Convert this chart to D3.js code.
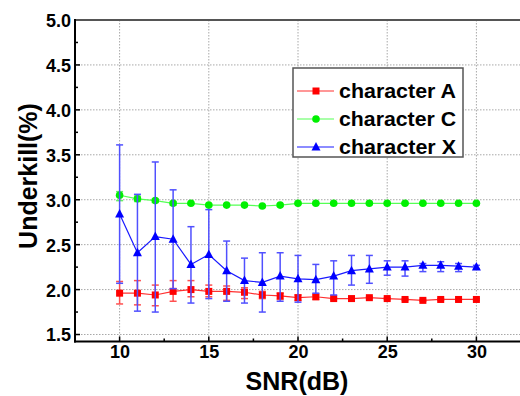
<!DOCTYPE html>
<html>
<head>
<meta charset="utf-8">
<script src="https://cdn.jsdelivr.net/npm/d3@7"></script>
<style>
  body { margin: 0; background: #fff; }
  svg { display: block; font-family: "Liberation Sans", Arial, sans-serif; font-weight: bold; }
</style>
</head>
<body>
<svg id="chart" width="520" height="396"></svg>
<script>
// SNR values on the x axis
const snr = [10, 11, 12, 13, 14, 15, 16, 17, 18, 19, 20, 21, 22, 23, 24, 25, 26, 27, 28, 29, 30];

// character A (red squares)
const charA = [1.96, 1.96, 1.94, 1.98, 2.00, 1.98, 1.98, 1.97, 1.94, 1.93, 1.91, 1.92, 1.90, 1.90, 1.91, 1.90, 1.89, 1.88, 1.89, 1.89, 1.89];
const charALow = [1.84, 1.83, 1.82, 1.87, 1.92, 1.92, 1.88, 1.90, 1.90, 1.89, 1.88, 1.89, 1.89, 1.89, 1.90, 1.89, 1.88, 1.87, 1.88, 1.88, 1.88];
const charAHigh = [2.09, 2.10, 2.05, 2.10, 2.10, 2.05, 2.04, 2.02, 1.98, 1.96, 1.94, 1.94, 1.91, 1.91, 1.92, 1.91, 1.90, 1.89, 1.90, 1.90, 1.90];

// character C (green circles)
const charC = [3.05, 3.01, 2.99, 2.96, 2.96, 2.94, 2.94, 2.94, 2.93, 2.94, 2.96, 2.96, 2.96, 2.96, 2.96, 2.96, 2.96, 2.96, 2.96, 2.96, 2.96];
const charCLow = [2.99, 2.98, 2.97, 2.94, 2.95, 2.93, 2.93, 2.93, 2.92, 2.93, 2.95, 2.95, 2.95, 2.95, 2.95, 2.95, 2.95, 2.95, 2.95, 2.95, 2.95];
const charCHigh = [3.09, 3.04, 3.01, 2.98, 2.97, 2.95, 2.95, 2.95, 2.94, 2.95, 2.97, 2.97, 2.97, 2.97, 2.97, 2.97, 2.97, 2.97, 2.97, 2.97, 2.97];

// character X (blue triangles)
const charX = [2.84, 2.41, 2.59, 2.56, 2.28, 2.39, 2.21, 2.10, 2.08, 2.15, 2.12, 2.11, 2.15, 2.21, 2.23, 2.25, 2.25, 2.27, 2.27, 2.26, 2.25];
const charXLow = [2.07, 1.76, 1.75, 2.01, 1.85, 1.90, 1.87, 1.85, 1.75, 1.87, 1.86, 1.96, 1.94, 2.05, 2.07, 2.16, 2.15, 2.20, 2.20, 2.20, 2.23];
const charXHigh = [3.61, 3.06, 3.42, 3.11, 2.70, 2.89, 2.54, 2.35, 2.41, 2.41, 2.38, 2.28, 2.32, 2.38, 2.38, 2.32, 2.32, 2.29, 2.31, 2.29, 2.27];

const xTicks = [10, 15, 20, 25, 30];
const yTicks = [1.5, 2.0, 2.5, 3.0, 3.5, 4.0, 4.5, 5.0];

const series = [
    { name: 'character A', values: charA, low: charALow, high: charAHigh, color: '#ff0000', line: '#ff3030', bar: '#ff5050', marker: 'square' },
    { name: 'character C', values: charC, low: charCLow, high: charCHigh, color: '#00f000', line: '#55ff55', bar: '#66ee66', marker: 'circle' },
    { name: 'character X', values: charX, low: charXLow, high: charXHigh, color: '#0000ff', line: '#1a1aff', bar: '#5050ff', marker: 'triangle' },
];

const plotLeft = 75, plotRight = 521, plotTop = 20, plotBottom = 341.5;

const x = d3.scaleLinear().domain([7.5, 32.5]).range([plotLeft, plotRight]);
const y = d3.scaleLinear().domain([1.4, 5.0]).range([plotBottom + 2, plotTop]);

const svg = d3.select('#chart');

// dotted grid
const grid = svg.append('g');
grid.selectAll('line.gx')
    .data(xTicks)
    .enter()
    .append('line')
    .attr('x1', (d) => x(d))
    .attr('x2', (d) => x(d))
    .attr('y1', plotTop)
    .attr('y2', plotBottom)
    .attr('stroke', '#a8a8a8')
    .attr('stroke-width', 1)
    .attr('stroke-dasharray', '1.5,1.5');
grid.selectAll('line.gy')
    .data(yTicks.filter((d) => d < 5))
    .enter()
    .append('line')
    .attr('x1', plotLeft)
    .attr('x2', plotRight)
    .attr('y1', (d) => y(d))
    .attr('y2', (d) => y(d))
    .attr('stroke', '#a8a8a8')
    .attr('stroke-width', 1)
    .attr('stroke-dasharray', '1.5,1.5');

// axes (ticks point inward, minor ticks between)
const xAxis = d3.axisBottom(x).tickValues(xTicks).tickSize(0).tickPadding(4).tickFormat(d3.format('d'));
const yAxis = d3.axisLeft(y).tickValues(yTicks).tickSize(0).tickPadding(3).tickFormat(d3.format('.1f'));

const gx = svg.append('g').attr('transform', `translate(0,${plotBottom})`).call(xAxis);
gx.select('.domain').remove();
gx.selectAll('text').attr('font-size', '18px').attr('font-weight', 'bold').attr('fill', '#000').attr('font-family', 'inherit');

const gy = svg.append('g').attr('transform', `translate(${plotLeft - 1},0)`).call(yAxis);
gy.select('.domain').remove();
gy.selectAll('text').attr('font-size', '18px').attr('font-weight', 'bold').attr('fill', '#000').attr('font-family', 'inherit').attr('dy', '0.36em');

const xMinor = d3.range(7.5, 32.6, 2.5);
svg.append('g')
    .selectAll('line')
    .data(xMinor)
    .enter()
    .append('line')
    .attr('x1', (d) => x(d))
    .attr('x2', (d) => x(d))
    .attr('y1', plotBottom)
    .attr('y2', (d) => (d % 5 === 0 ? plotBottom - 5 : plotBottom - 3))
    .attr('stroke', '#000')
    .attr('stroke-width', 1.5);
const yMinor = d3.range(1.5, 5.01, 0.25);
svg.append('g')
    .selectAll('line')
    .data(yMinor)
    .enter()
    .append('line')
    .attr('x1', plotLeft)
    .attr('x2', (d) => (Math.abs(d * 2 - Math.round(d * 2)) < 1e-6 ? plotLeft + 5 : plotLeft + 3))
    .attr('y1', (d) => y(d))
    .attr('y2', (d) => y(d))
    .attr('stroke', '#000')
    .attr('stroke-width', 1.5);

// frame: top border grey, left/bottom black
svg.append('line').attr('x1', plotLeft).attr('x2', 520).attr('y1', plotTop).attr('y2', plotTop).attr('stroke', '#555').attr('stroke-width', 2);
svg.append('line').attr('x1', plotLeft).attr('x2', plotLeft).attr('y1', plotTop - 1).attr('y2', plotBottom + 1).attr('stroke', '#000').attr('stroke-width', 2);
svg.append('line').attr('x1', plotLeft - 1).attr('x2', 520).attr('y1', plotBottom).attr('y2', plotBottom).attr('stroke', '#000').attr('stroke-width', 2);

// marker drawing
function drawMarker(sel, type, color) {
    if (type === 'square') {
        sel.append('rect').attr('x', -3.5).attr('y', -3.5).attr('width', 7).attr('height', 7).attr('fill', color);
    } else if (type === 'circle') {
        sel.append('circle').attr('r', 3.8).attr('fill', color);
    } else {
        sel.append('path').attr('d', 'M0,-5L4.5,3.5L-4.5,3.5Z').attr('fill', color);
    }
}

const line = d3.line().x((d) => x(d[0])).y((d) => y(d[1]));

series.forEach((s) => {
    const pts = snr.map((v, i) => [v, s.values[i], s.low[i], s.high[i]]);
    const g = svg.append('g');

    // error bars
    const eb = g.selectAll('g.eb').data(pts).enter().append('g');
    eb.append('line')
        .attr('x1', (d) => x(d[0]))
        .attr('x2', (d) => x(d[0]))
        .attr('y1', (d) => y(d[2]))
        .attr('y2', (d) => y(d[3]))
        .attr('stroke', s.bar)
        .attr('stroke-width', 1.5);
    [2, 3].forEach((k) => {
        eb.append('line')
            .attr('x1', (d) => x(d[0]) - 3.5)
            .attr('x2', (d) => x(d[0]) + 3.5)
            .attr('y1', (d) => y(d[k]))
            .attr('y2', (d) => y(d[k]))
            .attr('stroke', s.bar)
            .attr('stroke-width', 1.5);
    });

    g.append('path')
        .datum(pts)
        .attr('d', line)
        .attr('fill', 'none')
        .attr('stroke', s.line)
        .attr('stroke-width', 1.2);

    const m = g.selectAll('g.m')
        .data(pts)
        .enter()
        .append('g')
        .attr('transform', (d) => `translate(${x(d[0])},${y(d[1])})`);
    drawMarker(m, s.marker, s.color);
});

// legend
const legend = svg.append('g').attr('transform', 'translate(293,68)');
legend.append('rect')
    .attr('width', 170)
    .attr('height', 89)
    .attr('fill', '#fff')
    .attr('stroke', '#555')
    .attr('stroke-width', 1.5);
series.forEach((s, i) => {
    const ly = 23 + i * 28;
    const item = legend.append('g').attr('transform', `translate(0,${ly})`);
    item.append('line').attr('x1', 4).attr('x2', 41).attr('y1', 0).attr('y2', 0).attr('stroke', s.line).attr('stroke-width', 1.2);
    const mk = item.append('g').attr('transform', 'translate(23,0)');
    drawMarker(mk, s.marker, s.color);
    item.append('text')
        .attr('x', 46)
        .attr('y', 7)
        .attr('font-size', '20px')
        .attr('textLength', 117)
        .attr('lengthAdjust', 'spacingAndGlyphs')
        .text(s.name);
});

// axis titles
svg.append('text')
    .attr('x', 297)
    .attr('y', 390)
    .attr('text-anchor', 'middle')
    .attr('font-size', '25px')
    .text('SNR(dB)');
svg.append('text')
    .attr('transform', 'translate(37,176) rotate(-90)')
    .attr('text-anchor', 'middle')
    .attr('font-size', '25px')
    .text('Underkill(%)');
</script>
</body>
</html>
